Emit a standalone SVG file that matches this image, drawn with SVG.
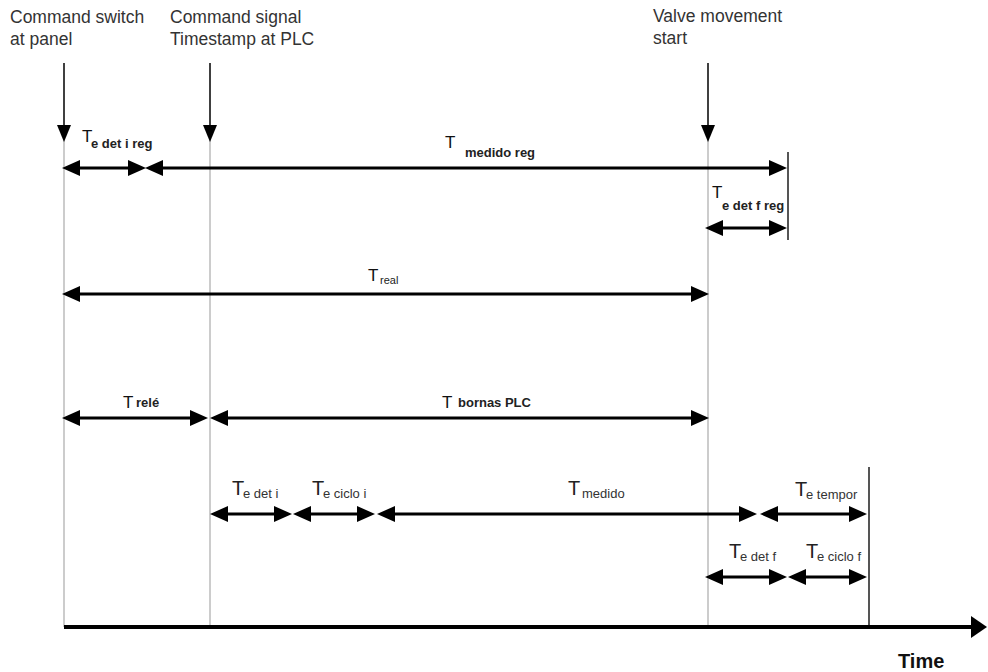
<svg xmlns="http://www.w3.org/2000/svg" width="988" height="672" viewBox="0 0 988 672">
<style>
.hdr{font-family:"Liberation Sans",Arial,sans-serif;font-size:17.5px;fill:#333}
.T{font-family:"Liberation Sans",Arial,sans-serif;font-size:17px;fill:#111}
.T2{font-family:"Liberation Sans",Arial,sans-serif;font-size:20px;fill:#222}
.sb{font-family:"Liberation Sans",Arial,sans-serif;font-size:13px;font-weight:bold;fill:#222}
.sn{font-family:"Liberation Sans",Arial,sans-serif;font-size:11px;fill:#222}
.sg{font-family:"Liberation Sans",Arial,sans-serif;font-size:13px;fill:#333}
.guide{stroke:#bbb;stroke-width:1.5;fill:none}
.edge{stroke:#555;stroke-width:2;fill:none}
.dim{stroke:#000;stroke-width:3;fill:none;marker-start:url(#ah);marker-end:url(#ah)}
.down{stroke:#000;stroke-width:1.5;fill:none;marker-end:url(#dh)}
</style>
<defs>
<marker id="ah" viewBox="0 0 18 16" refX="8" refY="8" markerWidth="18" markerHeight="16" markerUnits="userSpaceOnUse" orient="auto-start-reverse">
<path d="M0,0 L18,8 L0,16 z" fill="#000"/>
</marker>
<marker id="dh" viewBox="0 0 17 14" refX="2" refY="7" markerWidth="17" markerHeight="14" markerUnits="userSpaceOnUse" orient="auto">
<path d="M0,0 L17,7 L0,14 z" fill="#000"/>
</marker>
<marker id="axh" viewBox="0 0 16 22" refX="4" refY="11" markerWidth="16" markerHeight="22" markerUnits="userSpaceOnUse" orient="auto">
<path d="M0,0 L16,11 L0,22 z" fill="#000"/>
</marker>
</defs>

<g id="guides">
<line class="guide" x1="64" y1="140" x2="64" y2="627"/>
<line class="guide" x1="210" y1="140" x2="210" y2="627"/>
<line class="guide" x1="708" y1="140" x2="708" y2="627"/>
<line class="edge" x1="788" y1="152" x2="788" y2="240"/>
<line class="edge" x1="869" y1="467" x2="869" y2="627"/>
</g>

<g id="event-command-switch">
<text class="hdr" x="10" y="23">Command switch</text>
<text class="hdr" x="10" y="45">at panel</text>
<line class="down" x1="64" y1="63" x2="64" y2="127"/>
</g>
<g id="event-command-signal">
<text class="hdr" x="170" y="23">Command signal</text>
<text class="hdr" x="170" y="45">Timestamp at PLC</text>
<line class="down" x1="210" y1="63" x2="210" y2="127"/>
</g>
<g id="event-valve">
<text class="hdr" x="653" y="22">Valve movement</text>
<text class="hdr" x="653" y="44">start</text>
<line class="down" x1="708" y1="63" x2="708" y2="127"/>
</g>

<g id="axis">
<line x1="64" y1="627" x2="975" y2="627" stroke="#000" stroke-width="4" marker-end="url(#axh)"/>
<text x="898" y="668" font-family="'Liberation Sans',Arial,sans-serif" font-size="20" font-weight="bold" fill="#111">Time</text>
</g>

<g id="connectors">
<line class="dim" x1="72" y1="168" x2="136" y2="168"/>
<line class="dim" x1="155" y1="168" x2="777" y2="168"/>
<line class="dim" x1="715" y1="228" x2="777" y2="228"/>
<line class="dim" x1="72" y1="294" x2="699" y2="294"/>
<line class="dim" x1="72" y1="418" x2="198" y2="418"/>
<line class="dim" x1="220" y1="418" x2="699" y2="418"/>
<line class="dim" x1="220" y1="514" x2="282" y2="514"/>
<line class="dim" x1="303" y1="514" x2="365" y2="514"/>
<line class="dim" x1="387" y1="514" x2="747" y2="514"/>
<line class="dim" x1="770" y1="514" x2="857" y2="514"/>
<line class="dim" x1="715" y1="577" x2="777" y2="577"/>
<line class="dim" x1="798" y1="577" x2="857" y2="577"/>
</g>

<g id="label-te-det-i-reg"><text class="T" x="82" y="142">T</text><text class="sb" x="91" y="148">e det i reg</text></g>
<g id="label-t-medido-reg"><text class="T" x="445" y="148">T</text><text class="sb" x="465" y="157">medido reg</text></g>
<g id="label-te-det-f-reg"><text class="T" x="712" y="198">T</text><text class="sb" x="722" y="210">e det f reg</text></g>
<g id="label-t-real"><text class="T" x="368" y="281">T</text><text class="sn" x="380" y="284">real</text></g>
<g id="label-t-rele"><text class="T" x="123" y="408">T</text><text class="sb" x="136" y="407">relé</text></g>
<g id="label-t-bornas"><text class="T" x="442" y="408">T</text><text class="sb" x="458" y="407">bornas PLC</text></g>
<g id="label-te-det-i"><text class="T2" x="232" y="495">T</text><text class="sg" x="243" y="498">e det i</text></g>
<g id="label-te-ciclo-i"><text class="T2" x="312" y="495">T</text><text class="sg" x="323" y="498">e ciclo i</text></g>
<g id="label-t-medido"><text class="T2" x="568" y="495">T</text><text class="sg" x="582" y="498">medido</text></g>
<g id="label-te-tempor"><text class="T2" x="795" y="496">T</text><text class="sg" x="806" y="499">e tempor</text></g>
<g id="label-te-det-f"><text class="T2" x="729" y="558">T</text><text class="sg" x="740" y="561">e det f</text></g>
<g id="label-te-ciclo-f"><text class="T2" x="806" y="558">T</text><text class="sg" x="817" y="561">e ciclo f</text></g>
</svg>
